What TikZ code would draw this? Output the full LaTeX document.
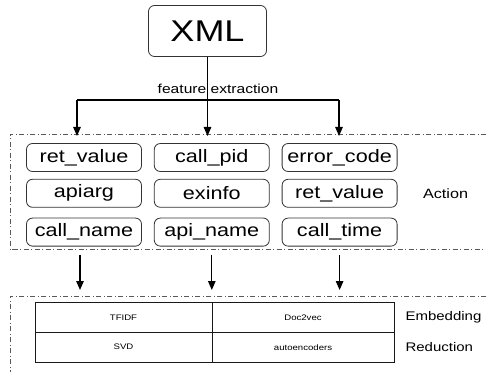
\documentclass[tikz,border=0pt]{standalone}
\usepackage{fontspec}
\setmainfont{Liberation Sans}
\usetikzlibrary{positioning, arrows.meta}
\newcommand{\wide}[1]{\scalebox{1.2}[1]{#1}}

\begin{document}
\begin{tikzpicture}[x = 1pt, y = 1pt,
    box/.style = {draw = black!80, line width = 0.8pt, rounded corners = 6pt, minimum width = 115pt,
        minimum height = 28pt, inner sep = 0pt, font = \fontsize{18}{18}\selectfont},
    cell/.style = {draw = black!90, line width = 0.7pt, minimum height = 29.75pt, inner sep = 0pt,
        outer sep = 0pt, font = \fontsize{8}{8}\selectfont},
    frame/.style = {draw = black!65, line width = 0.6pt,
        dash pattern = on 5pt off 2.5pt on 1pt off 2.5pt},
    arr/.style = {line width = 1.2pt, -{Triangle[width = 7.5pt, length = 9pt]}},
    side/.style = {font = \fontsize{12.5}{13}\selectfont}]
    \useasboundingbox (0,0) rectangle (486,372);

    \node[box, minimum width = 118pt, minimum height = 51pt,
        font = \fontsize{30}{30}\selectfont] (xml) at (207.5,341) {\wide{XML}};

    \node[box] (r11) at (84,214.5) {\wide{ret\_value}};
    \node[box] (r12) [right = 12pt of r11] {\wide{call\_pid}};
    \node[box] (r13) [right = 12pt of r12] {\wide{error\_code}};
    \node[box] (r21) [below = 7pt of r11] {\wide{apiarg}};
    \node[box] (r22) [right = 12pt of r21] {\wide{exinfo}};
    \node[box] (r23) [right = 12pt of r22] {\wide{ret\_value}};
    \node[box] (r31) [below = 10pt of r21] {\wide{call\_name}};
    \node[box] (r32) [right = 12pt of r31] {\wide{api\_name}};
    \node[box] (r33) [right = 12pt of r32] {\wide{call\_time}};
    \node[side, font = \fontsize{13.5}{14}\selectfont] (act) [right = 22pt of r23] {\wide{Action}};

    \node[cell, minimum width = 177pt] (tf) at (123.5,54.6) {\wide{TFIDF}};
    \node[cell, minimum width = 182pt] (dv) [right = 0pt of tf] {\wide{Doc2vec}};
    \node[cell, minimum width = 177pt] (sv) [below = 0pt of tf] {\wide{SVD}};
    \node[cell, minimum width = 182pt] (ae) [right = 0pt of sv] {\wide{autoencoders}};
    \node[side] (emb) [right = 8pt of dv] {\wide{Embedding}};
    \node[side] (red) [right = 8pt of ae] {\wide{Reduction}};

    \path[frame] (486,238) -- (10,238) -- (10,122.5) -- (486,122.5);
    \path[frame] (486,76) -- (10,76) -- (10,0);

    \coordinate (bl) at (77,272);
    \coordinate (br) at (339,272);
    \coordinate (tip) at (0,236);
    \draw[line width = 1.2pt] (bl) -- (br);
    \draw[arr] (xml.south) -- (xml.south |- tip);
    \draw[arr] (bl) -- (bl |- tip);
    \draw[arr] (br) -- (br |- tip);
    \node[font = \fontsize{13}{13}\selectfont] (fe) at (218,283) {\wide{feature extraction}};

    \coordinate (low) at (0,82);
    \draw[arr] ([xshift = -4pt, yshift = -8pt]r31.south) -- ([xshift = -4pt]r31.south |- low);
    \draw[arr] ([yshift = -8pt]r32.south) -- (r32.south |- low);
    \draw[arr] ([yshift = -8pt]r33.south) -- (r33.south |- low);
\end{tikzpicture}
\end{document}
